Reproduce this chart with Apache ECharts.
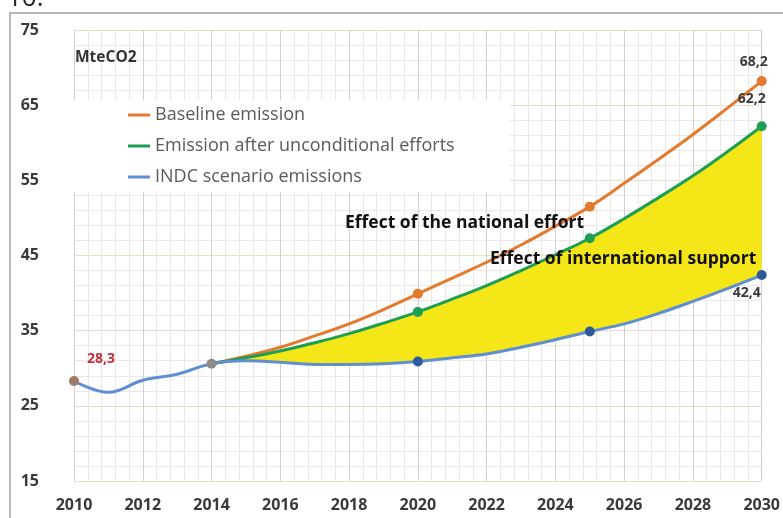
<!DOCTYPE html>
<html>
<head>
<meta charset="utf-8">
<script src="https://cdn.jsdelivr.net/npm/echarts@6/dist/echarts.min.js"></script>
<style>html,body{margin:0;padding:0;background:#fff}#c{width:783px;height:518px}</style>
</head>
<body>
<div id="c"></div>
<script>
const years = [2010,2011,2012,2013,2014,2015,2016,2017,2018,2019,2020,2021,2022,2023,2024,2025,2026,2027,2028,2029,2030];
const baseline = [null,null,null,null,30.6,31.6,32.8,34.3,35.9,37.8,39.9,42.0,44.1,46.4,48.9,51.5,54.6,57.8,61.1,64.6,68.2];
const unconditional = [null,null,null,null,30.6,31.4,32.3,33.4,34.6,36.0,37.5,39.2,41.0,43.0,45.1,47.3,49.9,52.7,55.6,58.8,62.2];
const indc = [28.3,26.8,28.4,29.2,30.6,31.0,30.8,30.5,30.5,30.6,30.9,31.4,31.9,32.8,33.8,34.9,35.9,37.3,38.9,40.6,42.4];
const markerYears = [2020,2025,2030];
const seriesNames = ['Baseline emission','Emission after unconditional efforts','INDC scenario emissions'];
const yTicks = {min:15, max:75, step:10};
const xTicks = {min:2010, max:2030, step:2};

const fmt = v => String(v).replace('.', ',');
const FONT = 'Open Sans';

function build(vals, markerColor, labels, extraMarkers) {
  return years.map((y, i) => {
    const v = vals[i];
    if (v === null) return {value:[y, null]};
    const item = {value:[y, v]};
    const isMarker = markerYears.includes(y) || (extraMarkers && extraMarkers[y]);
    item.symbolSize = isMarker ? 10 : 0;
    item.itemStyle = {color: (extraMarkers && extraMarkers[y]) || markerColor};
    if (labels && labels[y]) item.label = Object.assign({show:true, formatter: fmt(v)}, labels[y]);
    return item;
  });
}

const lblStyle = {fontFamily: FONT, fontWeight:'bold', fontSize:14, color:'#3a3a3a'};

const fillStart = years.indexOf(2014);
const fillYears = years.slice(fillStart);
const fillLow = indc.slice(fillStart);
const fillHigh = unconditional.slice(fillStart);

const chart = echarts.init(document.getElementById('c'), null, {renderer:'canvas'});

// yellow band between INDC and unconditional lines, drawn through axis coordinates
function renderBand(params, api) {
  if (params.dataIndex !== 0) return null;
  const top = fillYears.map((y,i)=>api.coord([y, fillHigh[i]]));
  const bot = fillYears.map((y,i)=>api.coord([y, fillLow[i]])).reverse();
  const path = catmull(top) + ' L' + bot[0][0] + ' ' + bot[0][1] + catmull(bot, true) + ' Z';
  return {type:'path', shape:{pathData:path}, style:{fill:'#f5e617'}, silent:true};
}
function catmull(pts, cont) {
  let d = cont ? '' : 'M' + pts[0][0] + ' ' + pts[0][1];
  const t = 0.4 / 2;
  for (let i = 0; i < pts.length - 1; i++) {
    const p0 = pts[Math.max(i-1,0)], p1 = pts[i], p2 = pts[i+1], p3 = pts[Math.min(i+2, pts.length-1)];
    const c1 = [p1[0] + (p2[0]-p0[0])*t, p1[1] + (p2[1]-p0[1])*t];
    const c2 = [p2[0] - (p3[0]-p1[0])*t, p2[1] - (p3[1]-p1[1])*t];
    d += ' C' + c1[0] + ' ' + c1[1] + ' ' + c2[0] + ' ' + c2[1] + ' ' + p2[0] + ' ' + p2[1];
  }
  return d;
}

chart.setOption({
  animation:false,
  backgroundColor:'#fff',
  grid:{left:74, right:20, top:30, bottom:37},
  xAxis:{
    type:'value', min:xTicks.min, max:xTicks.max, interval:xTicks.step,
    axisLine:{show:false}, axisTick:{show:false},
    axisLabel:{margin:16, fontFamily:FONT, fontWeight:'bold', fontSize:16, color:'#3a3a3a', formatter: v=>String(v)},
    splitLine:{show:true, lineStyle:{color:'#d6cfcf', width:1}},
    minorTick:{show:false, splitNumber:5},
    minorSplitLine:{show:true, lineStyle:{color:'#ebe5e5', width:1}}
  },
  yAxis:{
    type:'value', min:yTicks.min, max:yTicks.max, interval:yTicks.step,
    axisLine:{show:false}, axisTick:{show:false},
    axisLabel:{margin:35, fontFamily:FONT, fontWeight:'bold', fontSize:16, color:'#3a3a3a'},
    splitLine:{show:true, lineStyle:{color:'#e8dccd', width:1}},
    minorTick:{show:false, splitNumber:5},
    minorSplitLine:{show:true, lineStyle:{color:'#ede7e7', width:1}}
  },
  legend:{
    data: seriesNames,
    orient:'vertical', left:62, top:100,
    backgroundColor:'#ffffff',
    padding:[4, 55, 4, 66],
    itemGap:9, itemWidth:22, itemHeight:3, icon:'rect',
    textStyle:{fontFamily:FONT, fontSize:18, color:'#5a5a5a', lineHeight:22}
  },
  series:[
    {name:'band', type:'custom', data:fillYears.map((y,i)=>[y, fillLow[i], fillHigh[i]]),
     encode:{x:0, y:[1,2]}, renderItem:renderBand, silent:true, z:1, clip:true},
    {name:seriesNames[0], type:'line', smooth:0.4, symbol:'circle', showAllSymbol:true, z:3,
     color:'#e47a2e', lineStyle:{width:3, color:'#e47a2e'},
     data: build(baseline, '#e47a2e', {2030:{position:'top', offset:[-8,-2], ...lblStyle}})},
    {name:seriesNames[1], type:'line', smooth:0.4, symbol:'circle', showAllSymbol:true, z:3,
     color:'#1e9e52', lineStyle:{width:3, color:'#1e9e52'},
     data: build(unconditional, '#1e9e52', {2030:{position:'top', offset:[-10,-10], ...lblStyle}})},
    {name:seriesNames[2], type:'line', smooth:0.4, symbol:'circle', showAllSymbol:true, z:3,
     color:'#5d8fd2', lineStyle:{width:3, color:'#5d8fd2'},
     data: build(indc, '#2c5a9a',
       {2030:{position:'bottom', offset:[-15,1], ...lblStyle},
        2010:{position:'top', offset:[27,-5], fontFamily:FONT, fontWeight:'bold', fontSize:14, color:'#c0303a'}},
       {2010:'#a07a6a', 2014:'#8e8a88'})}
  ],
  graphic:[
    {type:'polyline', shape:{points:[[10,518],[10,13],[783,13]]}, style:{stroke:'#a0a0a0', lineWidth:1.5, fill:null}, z:10},
    {type:'text', left:7, y:12, style:{text:'10.', fontFamily:FONT, fontSize:26, fill:'#222', verticalAlign:'bottom'}, z:10},
    {type:'text', x:75, y:58, style:{text:'MteCO2', fontFamily:FONT, fontWeight:'bold', fontSize:15.5, fill:'#333', verticalAlign:'middle'}, z:10},
    {type:'text', x:345, y:223, style:{text:'Effect of the national effort', fontFamily:FONT, fontWeight:'bold', fontSize:17.5, fill:'#111', verticalAlign:'middle'}, z:10},
    {type:'text', x:490, y:259, style:{text:'Effect of international support', fontFamily:FONT, fontWeight:'bold', fontSize:17.5, fill:'#111', verticalAlign:'middle'}, z:10}
  ]
});
</script>
</body>
</html>
